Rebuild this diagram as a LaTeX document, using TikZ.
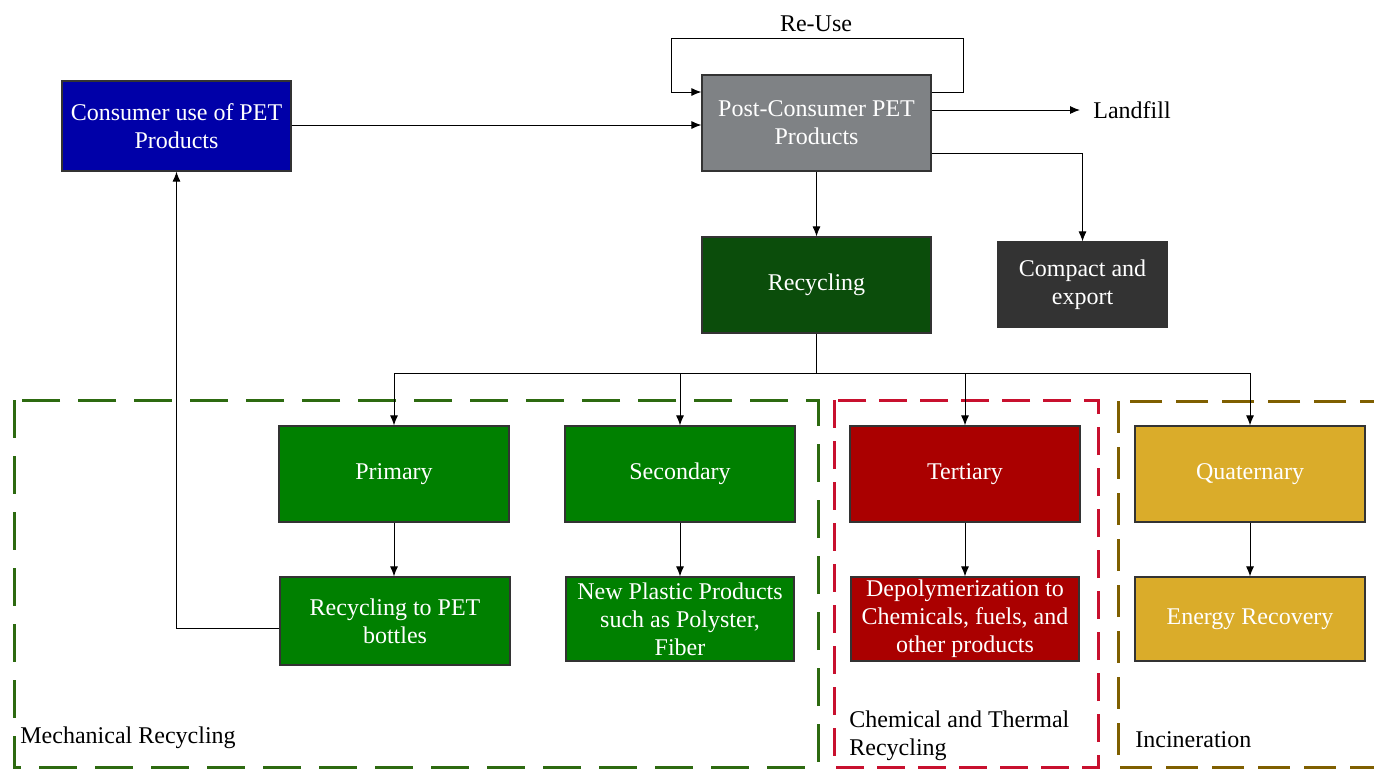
\documentclass[tikz,border=0pt]{standalone}
\usepackage{fontspec}
\setmainfont{Liberation Serif}
\usetikzlibrary{arrows.meta}
\definecolor{cblue}{HTML}{0000A8}
\definecolor{cgray}{HTML}{7F8285}
\definecolor{cdkgreen}{HTML}{0B4D0B}
\definecolor{cdark}{HTML}{333333}
\definecolor{cgreen}{HTML}{008000}
\definecolor{cred}{HTML}{AA0000}
\definecolor{cgold}{HTML}{DAAC2A}
\definecolor{mgreen}{HTML}{2D6A10}
\definecolor{mred}{HTML}{C8102E}
\definecolor{mbrown}{HTML}{7F5F00}
\begin{document}
\begin{tikzpicture}[x=0.5pt,y=-0.5pt,
 box/.style={draw=black!80,line width=0.6pt,text=white,align=center,font=\fontsize{12}{14}\selectfont,inner sep=0pt},
 arr/.style={-{Latex[length=5pt,width=4pt]},line width=0.5pt},
 grp/.style={line width=1.5pt},
 lbl/.style={font=\fontsize{12}{14}\selectfont,align=left,inner sep=0pt}]
\useasboundingbox (0,0) rectangle (1374,768);

% groups
\draw[grp,mgreen,dash pattern=on 19pt off 9pt] (14,400) rectangle (818,767);
\draw[grp,mred,dash pattern=on 14pt off 6.5pt] (834,400) rectangle (1098,767);
\draw[grp,mbrown,dash pattern=on 16pt off 7pt] (1118,401) rectangle (1395,767);

% nodes
\node[box,fill=cblue,minimum width=114.5pt,minimum height=45pt] (consumer) at (176.5,126) {Consumer use of PET\\Products};
\node[box,fill=cgray,minimum width=114.5pt,minimum height=48pt] (post) at (816.5,123) {Post-Consumer PET\\Products};
\node[box,fill=cdkgreen,minimum width=114.5pt,minimum height=48pt] (recycling) at (816.5,285) {Recycling};
\node[box,fill=cdark,minimum width=84.5pt,minimum height=42.5pt] (compact) at (1082.5,284.5) {Compact and\\export};
\node[box,fill=cgreen,minimum width=115pt,minimum height=48pt] (primary) at (394,474) {Primary};
\node[box,fill=cgreen,minimum width=115pt,minimum height=48pt] (secondary) at (680,474) {Secondary};
\node[box,fill=cred,minimum width=115pt,minimum height=48pt] (tertiary) at (965,474) {Tertiary};
\node[box,fill=cgold,minimum width=115pt,minimum height=48pt] (quaternary) at (1250,474) {Quaternary};
\node[box,fill=cgreen,minimum width=115pt,minimum height=44pt] (rpb) at (395,621) {Recycling to PET\\bottles};
\node[box,fill=cgreen,minimum width=114pt,minimum height=42pt] (npp) at (680,619) {New Plastic Products\\such as Polyster,\\Fiber};
\node[box,fill=cred,minimum width=114pt,minimum height=42pt] (dep) at (965,619) {Depolymerization to\\Chemicals, fuels, and\\other products};
\node[box,fill=cgold,minimum width=115pt,minimum height=42pt] (energy) at (1250,619) {Energy Recovery};

% labels
\node[lbl] (reuse) at (816,24) {Re-Use};
\node[lbl,anchor=west] (landfill) at (1093,110) {Landfill};
\node[lbl,anchor=west] (mech) at (20,738) {Mechanical Recycling};
\node[lbl,anchor=west] (chem) at (849,736) {Chemical and Thermal\\Recycling};
\node[lbl,anchor=west] (incin) at (1135,740) {Incineration};

% connectors
\draw[arr] (post.east |- 0,92) -- (963,92) -- (963,38) -- (671,38) -- (671,92) -- (post.west |- 0,92);
\draw[arr] (consumer.east |- 0,125) -- (post.west |- 0,125);
\draw[arr] (post.east |- landfill) -- ([xshift=-6.5pt]landfill.west);
\draw[arr] (post.east |- 0,153) -| (compact.north);
\draw[arr] (post.south) -- (recycling.north);
\draw (recycling.south) -- (recycling.south |- 0,373);
\draw (primary.north |- 0,373) -- (quaternary.north |- 0,373);
\draw[arr] (primary.north |- 0,373) -- (primary.north);
\draw[arr] (secondary.north |- 0,373) -- (secondary.north);
\draw[arr] (tertiary.north |- 0,373) -- (tertiary.north);
\draw[arr] (quaternary.north |- 0,373) -- (quaternary.north);
\draw[arr] (primary.south) -- (primary.south |- rpb.north);
\draw[arr] (secondary.south) -- (npp.north);
\draw[arr] (tertiary.south) -- (dep.north);
\draw[arr] (quaternary.south) -- (energy.north);
\draw[arr] (rpb.west |- 0,628) -| (consumer.south);
\end{tikzpicture}
\end{document}
